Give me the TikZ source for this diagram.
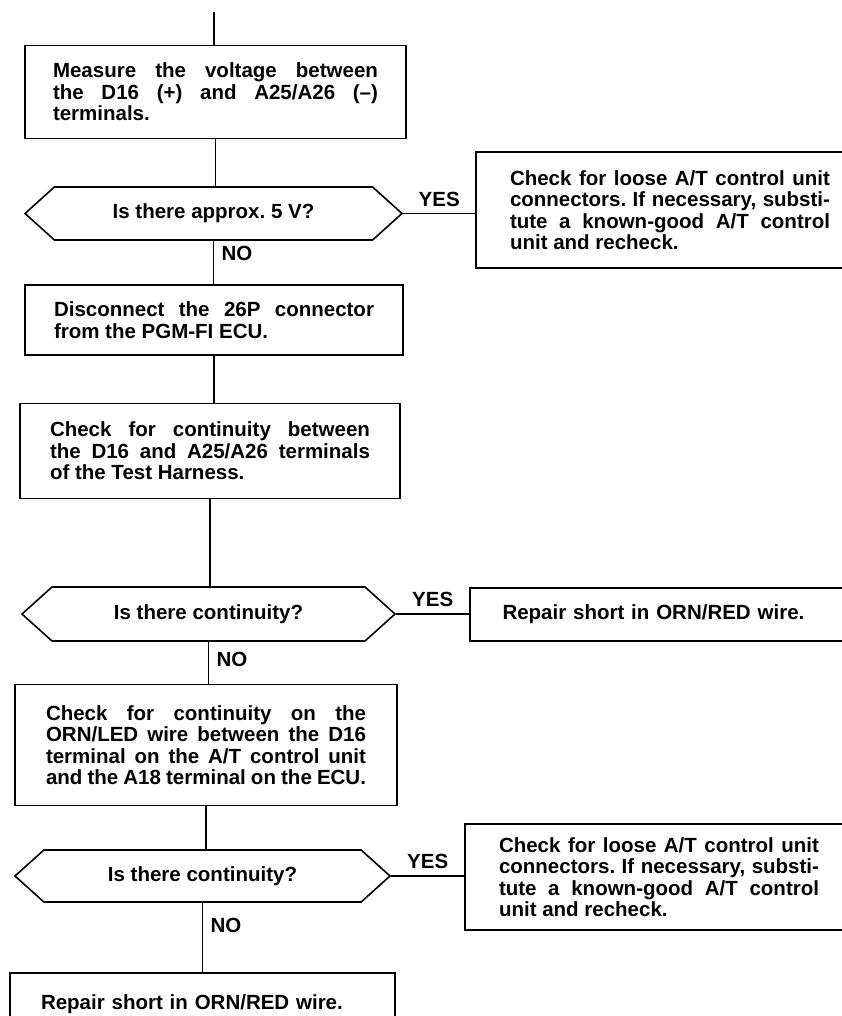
\documentclass[tikz,border=0pt]{standalone}
\usepackage{fontspec}
\setmainfont{Liberation Sans}
\usetikzlibrary{shapes.symbols,positioning}
\frenchspacing

\begin{document}
\begin{tikzpicture}[x=1pt,y=-1pt,
      every node/.style={font=\bfseries\fontsize{20.5}{21.5}\selectfont},
      stepbox/.style={draw,line width=1.6pt,align=justify,inner xsep=0pt,inner ysep=0pt},
      query/.style={draw,line width=1.6pt,shape=signal,signal to=west and east,
                    signal pointer angle=84,inner sep=0pt,align=center},
      link/.style={line width=1.6pt}
    ]
      \clip (0,0) rectangle (842,1016);

      \coordinate (entry) at (214,12);
      \node[stepbox,text width=325pt,minimum width=381,minimum height=93] (measure)
            at (215.5,92)
            {Measure the voltage between\linebreak the D16 (+) and A25/A26 (--)\linebreak terminals.};
      \node[query,minimum width=377,minimum height=53] (volt) at (213.5,213.5)
            {Is there approx. 5 V?};
      \node[stepbox,text width=320pt,minimum width=388,minimum height=116] (loose1)
            at (670,210)
            {Check for loose A/T control unit\linebreak connectors. If necessary, substi-\linebreak tute a known-good A/T control\linebreak unit and recheck.};

      \node[stepbox,text width=320pt,minimum width=378,minimum height=70] (unplug)
            at (214,320)
            {Disconnect the 26P connector\linebreak from the PGM-FI ECU.};
      \node[stepbox,text width=320pt,minimum width=380,minimum height=95] (harness)
            at (210,451)
            {Check for continuity between\linebreak the D16 and A25/A26 terminals\linebreak of the Test Harness.};

      \node[query,minimum width=373,minimum height=54] (cont1) at (208.5,614)
            {Is there continuity?};
      \node[stepbox,align=left,text width=310pt,minimum width=375,minimum height=53] (short1)
            at (657.5,614.5) {Repair short in ORN/RED wire.};

      \node[stepbox,text width=320pt,minimum width=382,minimum height=121] (wire)
            at (206,745)
            {Check for continuity on the\linebreak ORN/LED wire between the D16\linebreak terminal on the A/T control unit\linebreak and the A18 terminal on the ECU.};

      \node[query,minimum width=375,minimum height=52] (cont2) at (202.5,876)
            {Is there continuity?};
      \node[stepbox,text width=320pt,minimum width=388,minimum height=106] (loose2)
            at (659,877)
            {Check for loose A/T control unit\linebreak connectors. If necessary, substi-\linebreak tute a known-good A/T control\linebreak unit and recheck.};

      \node[stepbox,align=left,text width=323pt,minimum width=385,minimum height=62] (short2)
            at (202.5,1004) {Repair short in ORN/RED wire.};

      % main line
      \draw[link] (entry) -- (entry |- measure.north);
      \draw[link] (measure.south) -- (measure.south |- volt.north);
      \draw[link] (volt.south) -- node[pos=0.3,right=4pt]{NO} (volt.south |- unplug.north);
      \draw[link] (unplug.south) -- (unplug.south |- harness.north);
      \draw[link] (harness.south) -- (harness.south |- cont1.north);
      \draw[link] (cont1.south) -- node[pos=0.42,right=4pt]{NO} (cont1.south |- wire.north);
      \draw[link] (wire.south) -- (wire.south |- cont2.north);
      \draw[link] (cont2.south) -- node[pos=0.32,right=4pt]{NO} (cont2.south |- short2.north);

      % yes branches
      \draw[link] (volt.east) -- node[above=3pt]{YES} (volt.east -| loose1.west);
      \draw[link] (cont1.east) -- node[above=3pt]{YES} (cont1.east -| short1.west);
      \draw[link] (cont2.east) -- node[above=3pt]{YES} (cont2.east -| loose2.west);
    \end{tikzpicture}
\end{document}
